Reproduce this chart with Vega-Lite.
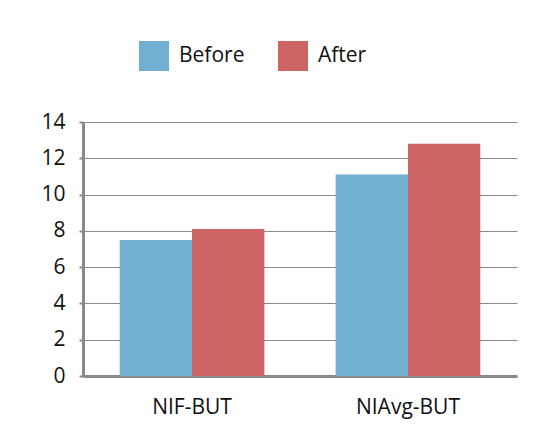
{
  "$schema": "https://vega.github.io/schema/vega-lite/v6.json",
  "width": 434,
  "height": 254,
  "autosize": "none",
  "padding": {"left": 83, "top": 122, "right": 23, "bottom": 67},
  "background": "white",
  "data": {
    "values": [
      {"category": "NIF-BUT", "series": "Before", "value": 7.5},
      {"category": "NIF-BUT", "series": "After", "value": 8.1},
      {"category": "NIAvg-BUT", "series": "Before", "value": 11.1},
      {"category": "NIAvg-BUT", "series": "After", "value": 12.8}
    ]
  },
  "mark": {"type": "bar"},
  "encoding": {
    "x": {
      "field": "category",
      "type": "nominal",
      "sort": ["NIF-BUT", "NIAvg-BUT"],
      "scale": {"paddingInner": 0.33, "paddingOuter": 0.17},
      "axis": {
        "title": null,
        "labelAngle": 0,
        "ticks": false,
        "domainColor": "#898989",
        "domainWidth": 3,
        "labelPadding": 20,
        "labelFontSize": 21,
        "labelFont": "Open Sans",
        "labelColor": "#111111"
      }
    },
    "xOffset": {"field": "series", "sort": ["Before", "After"]},
    "y": {
      "field": "value",
      "type": "quantitative",
      "scale": {"domain": [0, 14], "nice": false},
      "axis": {
        "title": null,
        "values": [0, 2, 4, 6, 8, 10, 12, 14],
        "grid": true,
        "gridColor": "#8a8a8a",
        "gridWidth": 1.2,
        "domainColor": "#898989",
        "domainWidth": 3,
        "tickColor": "#898989",
        "tickWidth": 2,
        "tickSize": 4,
        "labelPadding": 14,
        "labelFontSize": 21,
        "labelFont": "Open Sans",
        "labelColor": "#111111"
      }
    },
    "color": {
      "field": "series",
      "type": "nominal",
      "sort": ["Before", "After"],
      "scale": {"domain": ["Before", "After"], "range": ["#71B0D1", "#CC6563"]},
      "legend": {
        "title": null,
        "orient": "none",
        "legendX": 56,
        "legendY": -81,
        "direction": "horizontal",
        "symbolType": "square",
        "symbolSize": 900,
        "symbolStrokeWidth": 0,
        "labelFontSize": 21,
        "labelFont": "Open Sans",
        "labelColor": "#111111",
        "labelOffset": 10,
        "columnPadding": 33
      }
    }
  },
  "config": {"view": {"stroke": null}}
}
